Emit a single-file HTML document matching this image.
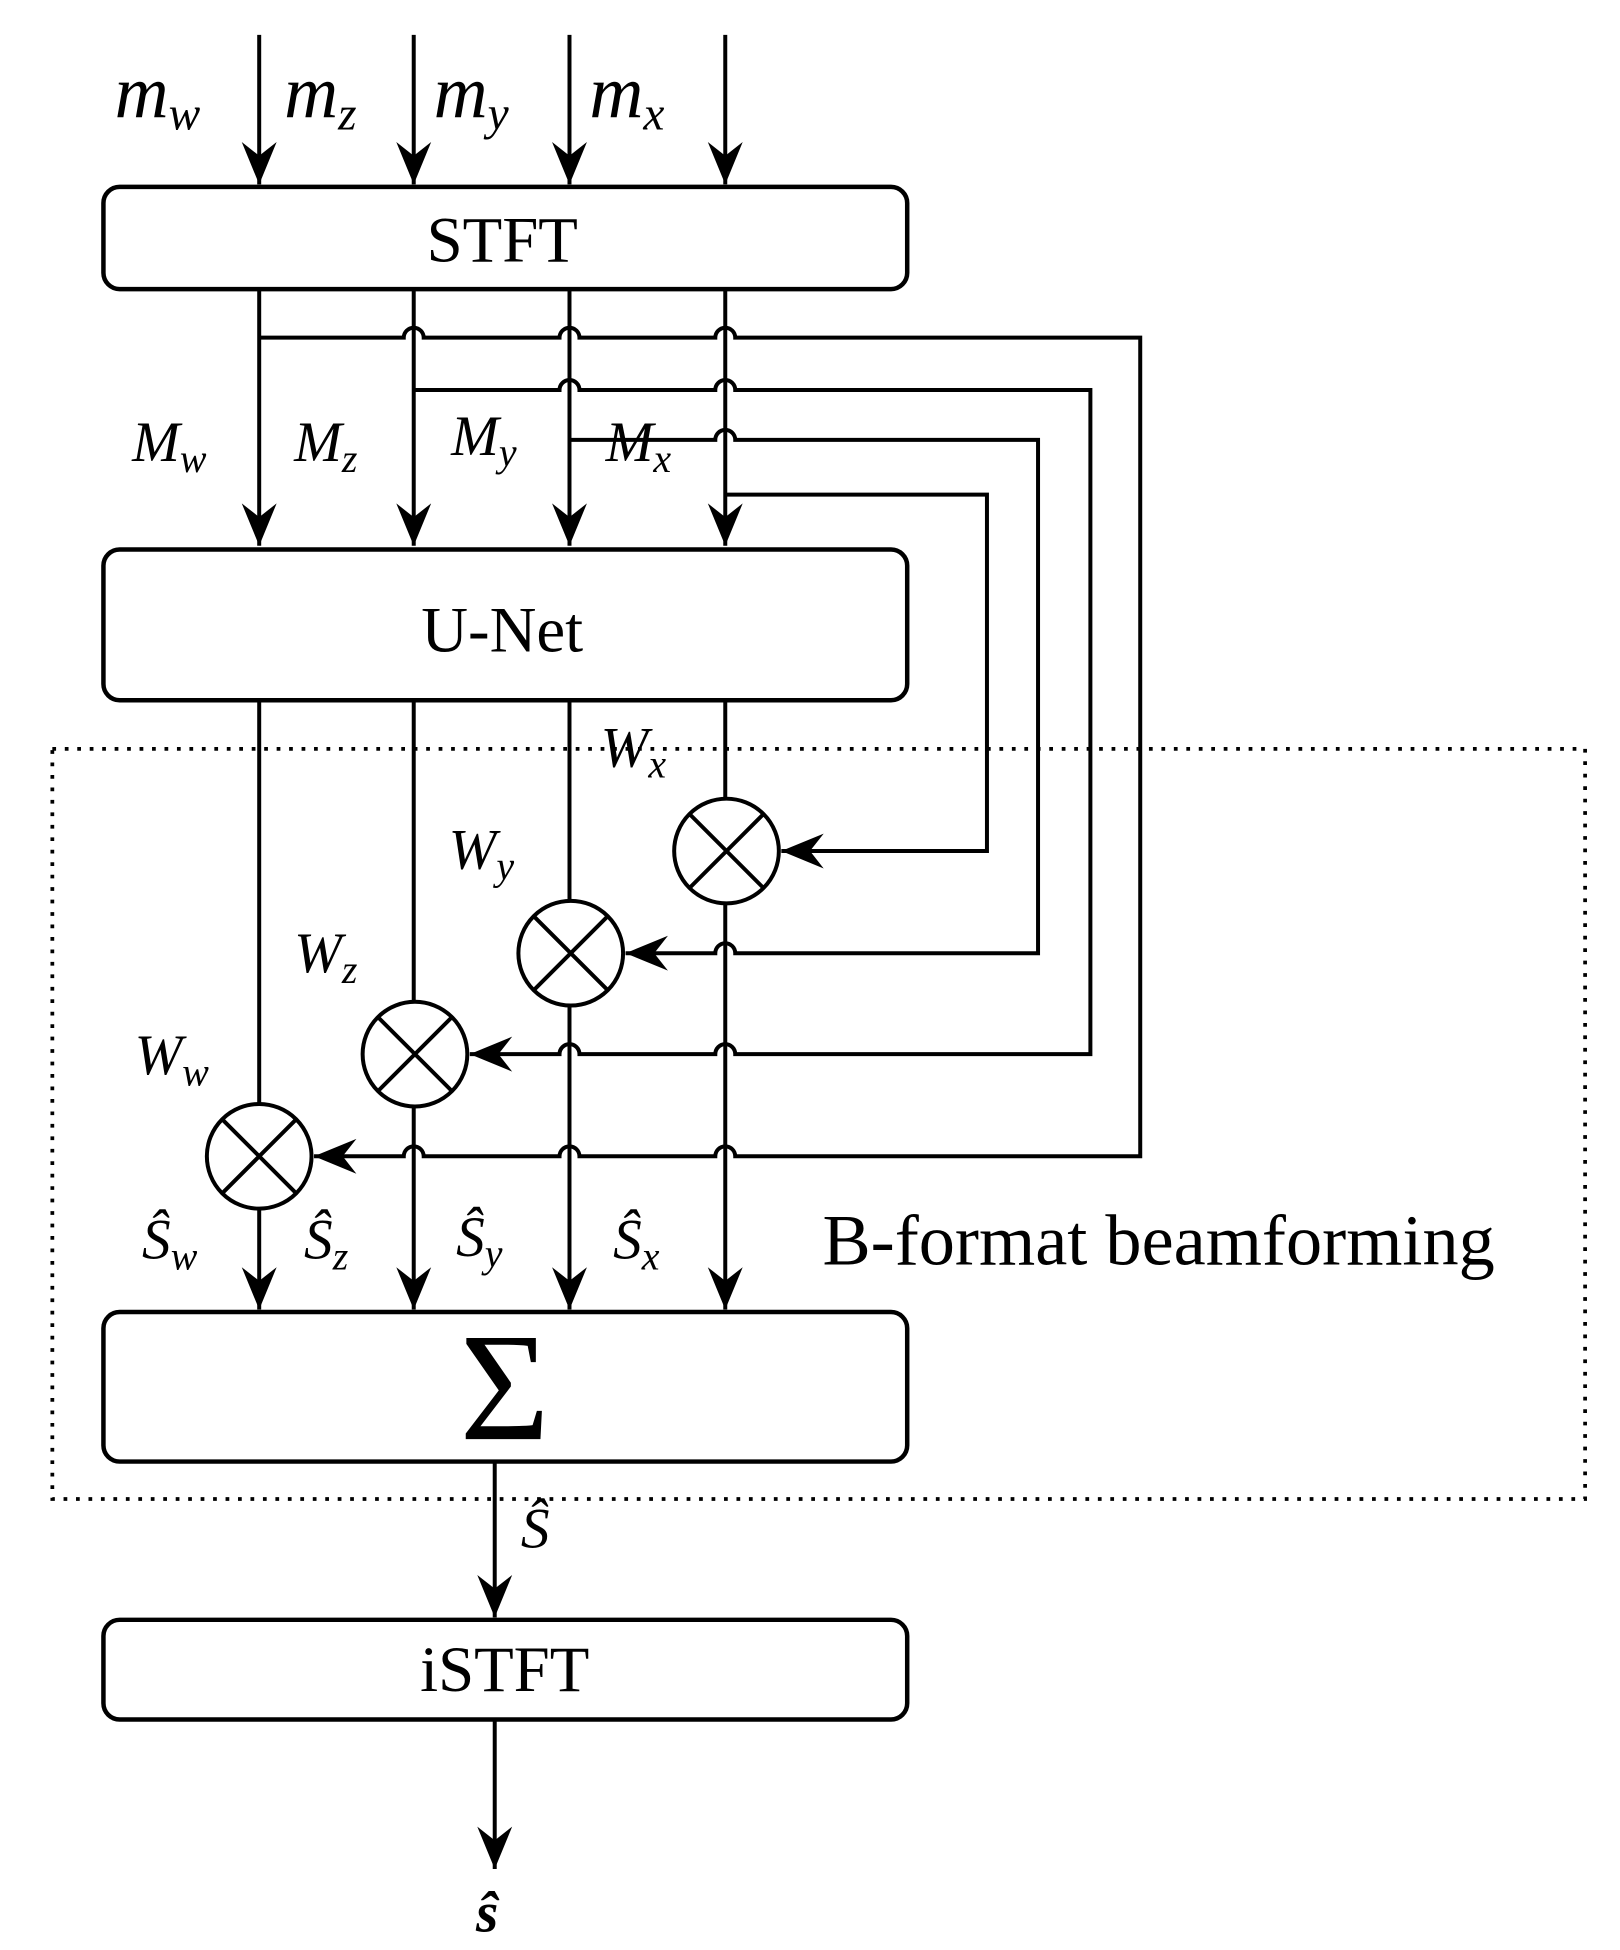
<!DOCTYPE html>
<html><head><meta charset="utf-8"><style>
html,body{margin:0;padding:0;background:#fff;}
svg{display:block;}
text{font-family:"Liberation Serif",serif;fill:#000;}
.m{font-style:italic;}
</style></head><body>
<svg width="1620" height="1950" viewBox="0 0 1300 1565" preserveAspectRatio="none" xmlns="http://www.w3.org/2000/svg">
<defs>
<marker id="a" markerUnits="userSpaceOnUse" viewBox="-36 -16 37 32" markerWidth="37" markerHeight="32" refX="0" refY="0" orient="auto">
<path d="M0 0 L-34 -14 L-23 0 L-34 14 Z" fill="#000"/>
</marker>
</defs>
<g fill="none" stroke="#000" stroke-width="3.2">
<line x1="208" y1="28" x2="208" y2="148" marker-end="url(#a)"/>
<line x1="332" y1="28" x2="332" y2="148" marker-end="url(#a)"/>
<line x1="457" y1="28" x2="457" y2="148" marker-end="url(#a)"/>
<line x1="582" y1="28" x2="582" y2="148" marker-end="url(#a)"/>
<rect x="83" y="150" width="645" height="82" rx="13" stroke-width="3.6"/>
<rect x="83" y="441" width="645" height="121" rx="13" stroke-width="3.6"/>
<rect x="83" y="1053" width="645" height="120" rx="13" stroke-width="3.6"/>
<rect x="83" y="1300" width="645" height="80" rx="13" stroke-width="3.6"/>
<line x1="208" y1="232" x2="208" y2="438" marker-end="url(#a)"/>
<line x1="332" y1="232" x2="332" y2="438" marker-end="url(#a)"/>
<line x1="457" y1="232" x2="457" y2="438" marker-end="url(#a)"/>
<line x1="582" y1="232" x2="582" y2="438" marker-end="url(#a)"/>
<path d="M208 271 H324 a8 8 0 0 1 16 0 H449 a8 8 0 0 1 16 0 H574 a8 8 0 0 1 16 0 H915 V928 H590 a8 8 0 0 0 -16 0 H465 a8 8 0 0 0 -16 0 H340 a8 8 0 0 0 -16 0 H252" marker-end="url(#a)"/>
<path d="M332 313 H449 a8 8 0 0 1 16 0 H574 a8 8 0 0 1 16 0 H875 V846 H590 a8 8 0 0 0 -16 0 H465 a8 8 0 0 0 -16 0 H377" marker-end="url(#a)"/>
<path d="M457 353 H574 a8 8 0 0 1 16 0 H833 V765 H590 a8 8 0 0 0 -16 0 H502" marker-end="url(#a)"/>
<path d="M582 397 H792 V683 H627" marker-end="url(#a)"/>
<line x1="208" y1="562" x2="208" y2="886"/>
<line x1="332" y1="562" x2="332" y2="804"/>
<line x1="457" y1="562" x2="457" y2="723"/>
<line x1="582" y1="562" x2="582" y2="641"/>
<g>
<circle cx="583" cy="683" r="42"/><path d="M553 653 L613 713 M613 653 L553 713"/>
<circle cx="458" cy="765" r="42"/><path d="M428 735 L488 795 M488 735 L428 795"/>
<circle cx="333" cy="846" r="42"/><path d="M303 816 L363 876 M363 816 L303 876"/>
<circle cx="208" cy="928" r="42"/><path d="M178 898 L238 958 M238 898 L178 958"/>
</g>
<line x1="208" y1="970" x2="208" y2="1051" marker-end="url(#a)"/>
<line x1="332" y1="888" x2="332" y2="1051" marker-end="url(#a)"/>
<line x1="457" y1="807" x2="457" y2="1051" marker-end="url(#a)"/>
<line x1="582" y1="725" x2="582" y2="1051" marker-end="url(#a)"/>
<line x1="397" y1="1173" x2="397" y2="1298" marker-end="url(#a)"/>
<line x1="397" y1="1380" x2="397" y2="1500" marker-end="url(#a)"/>
<rect x="42" y="601" width="1230" height="602" stroke-width="3" stroke-dasharray="3 7"/>
</g>
<text x="403" y="210" font-size="52" text-anchor="middle">STFT</text>
<text x="403" y="523" font-size="52" text-anchor="middle">U-Net</text>
<text x="405" y="1357" font-size="52" text-anchor="middle">iSTFT</text>
<text x="405" y="1155" font-size="124" text-anchor="middle">Σ</text>
<text x="660" y="1015" font-size="58">B-format beamforming</text>
<g class="m" font-size="60">
<text x="92" y="94">m<tspan font-size="38" dy="10">w</tspan></text>
<text x="228" y="94">m<tspan font-size="38" dy="10">z</tspan></text>
<text x="348" y="94">m<tspan font-size="38" dy="10">y</tspan></text>
<text x="473" y="94">m<tspan font-size="38" dy="10">x</tspan></text>
</g>
<g class="m" font-size="46">
<text x="106" y="370">M<tspan font-size="32" dy="9">w</tspan></text>
<text x="236" y="370">M<tspan font-size="32" dy="9">z</tspan></text>
<text x="362" y="365">M<tspan font-size="32" dy="9">y</tspan></text>
<text x="486" y="370">M<tspan font-size="32" dy="9">x</tspan></text>
<text x="482" y="615">W<tspan font-size="32" dy="9">x</tspan></text>
<text x="360" y="697">W<tspan font-size="32" dy="9">y</tspan></text>
<text x="236" y="780">W<tspan font-size="32" dy="9">z</tspan></text>
<text x="108" y="862">W<tspan font-size="32" dy="9">w</tspan></text>
<text x="114" y="1010">Ŝ<tspan font-size="32" dy="9">w</tspan></text>
<text x="244" y="1010">Ŝ<tspan font-size="32" dy="9">z</tspan></text>
<text x="366" y="1008">Ŝ<tspan font-size="32" dy="9">y</tspan></text>
<text x="492" y="1010">Ŝ<tspan font-size="32" dy="9">x</tspan></text>
<text x="418" y="1242">Ŝ</text>
</g>
<text x="382" y="1550" font-size="46" font-style="italic" font-weight="bold">ŝ</text>
</svg>
</body></html>
